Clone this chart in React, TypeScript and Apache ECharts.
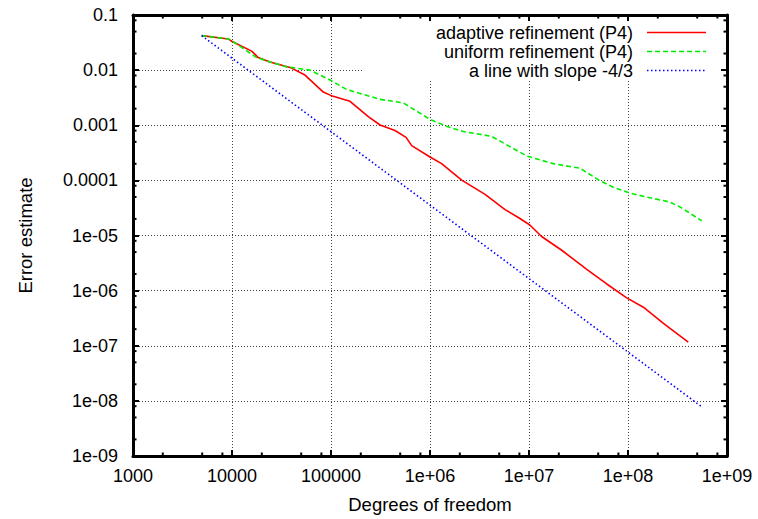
import React, { useEffect, useRef } from "react";
import * as echarts from "echarts";

// ---- data ----
const adaptiveDofs = [4940, 9190, 9930, 15800, 18400, 24200, 38500, 54600, 83600, 99300, 155600, 238000, 313000, 443000, 573000, 653000, 1000000, 1310000, 2090000, 3600000, 5730000, 7800000, 10200000, 13400000, 21400000, 38300000, 61000000, 97000000, 143000000, 228000000, 406000000];
const adaptiveErr = [0.0422, 0.0368, 0.0334, 0.0221, 0.0169, 0.0141, 0.0112, 0.00814, 0.004, 0.00348, 0.00272, 0.00143, 0.00101, 0.000803, 0.000603, 0.000427, 0.000265, 0.000201, 0.000101, 5.56e-5, 2.95e-5, 2.12e-5, 1.55e-5, 9.6e-6, 5.4e-6, 2.44e-6, 1.32e-6, 7.4e-7, 5.0e-7, 2.54e-7, 1.16e-7];

const uniformDofs = [4940, 9190, 10700, 17700, 24200, 35700, 61400, 97700, 144000, 313000, 537000, 1000000, 1480000, 2170000, 4200000, 9500000, 17600000, 32700000, 52000000, 71000000, 105000000, 155000000, 265000000, 335000000, 555000000];
const uniformErr = [0.0422, 0.0368, 0.0313, 0.0169, 0.0141, 0.01146, 0.01, 0.00663, 0.00445, 0.00295, 0.00254, 0.00128, 0.00095, 0.00077, 0.000628, 0.000276, 0.000201, 0.000166, 9.9e-5, 7.5e-5, 5.86e-5, 4.97e-5, 4.04e-5, 3.3e-5, 1.85e-5];

const slopeDofs = [4940, 556000000];
const slopeErr = [0.0422, 7.8e-9];

const seriesNames = ["adaptive refinement (P4)", "uniform refinement (P4)", "a line with slope -4/3"];

const xTickLabels = ["1000", "10000", "100000", "1e+06", "1e+07", "1e+08", "1e+09"];
const yTickLabels = ["1e-09", "1e-08", "1e-07", "1e-06", "1e-05", "0.0001", "0.001", "0.01", "0.1"];
const xMinExp = 3;
const xMaxExp = 9;
const yMinExp = -9;
const yMaxExp = -1;
const minorMultipliers = [2, 5, 8];

const FONT = '"Liberation Sans", Arial, Helvetica, sans-serif';

function zip(a: number[], b: number[]) {
  return a.map((v, i) => [v, b[i]]);
}

function minorValues(lo: number, hi: number) {
  const out: number[] = [];
  for (let e = lo; e < hi; e++) {
    for (const m of minorMultipliers) out.push(m * Math.pow(10, e));
  }
  return out;
}

export default function App() {
  const ref = useRef<HTMLDivElement>(null);
  useEffect(() => {
    if (!ref.current) return;
    const chart = echarts.init(ref.current, null, { renderer: "svg" });
    const xMin = Math.pow(10, xMinExp);
    const xMax = Math.pow(10, xMaxExp);
    const yMin = Math.pow(10, yMinExp);
    const yMax = Math.pow(10, yMaxExp);

    const gridLine = { show: true, lineStyle: { color: "#444", width: 1, type: [1, 2] as any } };
    const border = { show: true, lineStyle: { color: "#000", width: 3 } };
    const majorTick = { show: true, inside: true, length: 6, lineStyle: { color: "#000", width: 2 } };

    const xMinor = minorValues(xMinExp, xMaxExp).map((v) => [v, yMin]);
    const yMinor = minorValues(yMinExp, yMaxExp).map((v) => [xMin, v]);

    const legendY = [32.5, 51.5, 70.5];
    const legendColors = ["#ff0000", "#00ee00", "#0000ff"];
    const legendDash: any[] = [null, [5, 3], [1.5, 2.5]];

    const option: any = {
      animation: false,
      backgroundColor: "#fff",
      grid: { left: 133, top: 15, width: 594, height: 448, containLabel: false },
      xAxis: [
        {
          type: "log",
          logBase: 10,
          min: xMin,
          max: xMax,
          interval: 1,
          position: "bottom",
          name: "Degrees of freedom",
          nameLocation: "middle",
          nameGap: 39,
          nameTextStyle: { fontFamily: FONT, fontSize: 18.5, color: "#000" },
          axisLine: border,
          axisTick: majorTick,
          axisLabel: {
            fontFamily: FONT,
            fontSize: 18,
            color: "#000",
            margin: 11,
            formatter: (v: number) => xTickLabels[Math.round(Math.log10(v)) - xMinExp],
          },
          splitLine: gridLine,
          z: 0,
        },
        {
          type: "log",
          logBase: 10,
          min: xMin,
          max: xMax,
          interval: 1,
          position: "top",
          axisLine: border,
          axisTick: majorTick,
          axisLabel: { show: false },
          splitLine: { show: false },
          z: 5,
        },
      ],
      yAxis: [
        {
          type: "log",
          logBase: 10,
          min: yMin,
          max: yMax,
          interval: 1,
          position: "left",
          name: "Error estimate",
          nameLocation: "middle",
          nameGap: 98,
          nameTextStyle: { fontFamily: FONT, fontSize: 18.5, color: "#000" },
          axisLine: border,
          axisTick: majorTick,
          axisLabel: {
            fontFamily: FONT,
            fontSize: 18,
            color: "#000",
            margin: 15,
            formatter: (v: number) => yTickLabels[Math.round(Math.log10(v)) - yMinExp],
          },
          splitLine: gridLine,
          z: 0,
        },
        {
          type: "log",
          logBase: 10,
          min: yMin,
          max: yMax,
          interval: 1,
          position: "right",
          axisLine: border,
          axisTick: majorTick,
          axisLabel: { show: false },
          splitLine: { show: false },
          z: 5,
        },
      ],
      graphic: [
        {
          type: "rect",
          z: 1,
          shape: { x: 363, y: 17, width: 361, height: 63 },
          style: { fill: "#fff" },
          silent: true,
        },
        ...seriesNames.map((name, i) => ({
          type: "text",
          z: 6,
          x: 633,
          y: legendY[i],
          style: {
            text: name,
            fill: "#000",
            font: `18px ${FONT}`,
            textAlign: "right",
            textVerticalAlign: "middle",
          },
        })),
        ...seriesNames.map((_, i) => ({
          type: "line",
          z: 6,
          shape: { x1: 647, y1: legendY[i], x2: 706, y2: legendY[i] },
          style: {
            stroke: legendColors[i],
            lineWidth: 1.6,
            lineDash: legendDash[i],
          },
        })),
      ],
      series: [
        {
          name: seriesNames[0],
          type: "line",
          data: zip(adaptiveDofs, adaptiveErr),
          showSymbol: false,
          symbol: "none",
          lineStyle: { color: legendColors[0], width: 1.6 },
          z: 3,
        },
        {
          name: seriesNames[1],
          type: "line",
          data: zip(uniformDofs, uniformErr),
          showSymbol: false,
          symbol: "none",
          lineStyle: { color: legendColors[1], width: 1.6, type: [5, 3] },
          z: 3,
        },
        {
          name: seriesNames[2],
          type: "line",
          data: zip(slopeDofs, slopeErr),
          showSymbol: false,
          symbol: "none",
          lineStyle: { color: legendColors[2], width: 1.6, type: [1.5, 2.5] },
          z: 3,
        },
        {
          type: "custom",
          silent: true,
          clip: false,
          z: 6,
          data: xMinor,
          renderItem: (params: any, api: any) => {
            const p = api.coord([api.value(0), yMin]);
            const r = params.coordSys;
            const style = { stroke: "#000", lineWidth: 2 };
            return {
              type: "group",
              children: [
                { type: "line", shape: { x1: p[0], y1: r.y + r.height, x2: p[0], y2: r.y + r.height - 3.5 }, style },
                { type: "line", shape: { x1: p[0], y1: r.y, x2: p[0], y2: r.y + 3.5 }, style },
              ],
            };
          },
        },
        {
          type: "custom",
          silent: true,
          clip: false,
          z: 6,
          data: yMinor,
          renderItem: (params: any, api: any) => {
            const p = api.coord([xMin, api.value(1)]);
            const r = params.coordSys;
            const style = { stroke: "#000", lineWidth: 2 };
            return {
              type: "group",
              children: [
                { type: "line", shape: { x1: r.x, y1: p[1], x2: r.x + 3.5, y2: p[1] }, style },
                { type: "line", shape: { x1: r.x + r.width, y1: p[1], x2: r.x + r.width - 3.5, y2: p[1] }, style },
              ],
            };
          },
        },
      ],
    };
    chart.setOption(option);
    return () => chart.dispose();
  }, []);
  return (
    <div
      ref={ref}
      style={{ position: "fixed", left: 0, top: 0, width: 758, height: 519, background: "#fff" }}
    />
  );
}
